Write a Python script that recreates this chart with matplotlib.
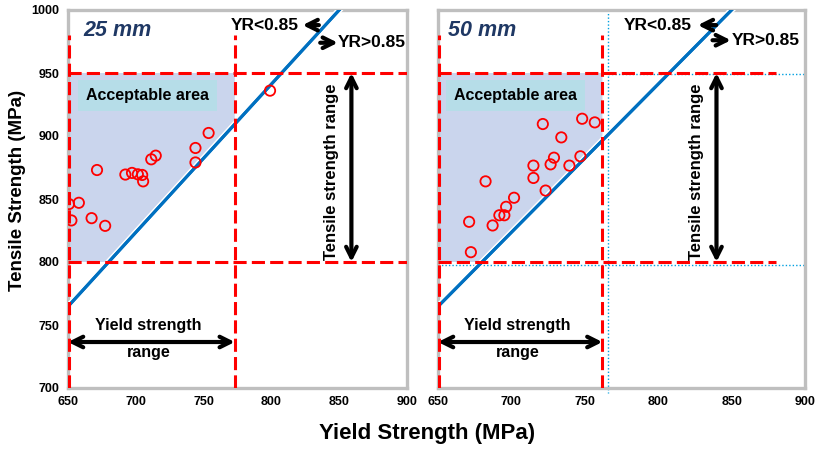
import matplotlib
matplotlib.use("Agg")
import matplotlib.pyplot as plt
import matplotlib.patheffects as pe

plt.rcParams["font.family"] = ["Liberation Sans", "DejaVu Sans"]
plt.rcParams["font.weight"] = "bold"

# yield ratio limit and specification ranges
yr_limit = 0.85
ts_range = (800, 950)
ys_range_25 = (650, 773)
ys_range_50 = (650, 762)

# 25 mm plate data (yield strength, tensile strength)
ys_25 = [799, 753.7, 744, 744, 714.7, 711.4, 671.4, 692.3, 697.2, 701.5, 704.7,
         705.4, 650.7, 658, 652.5, 667.4, 677.4]
ts_25 = [936, 902.4, 890.5, 879, 884.4, 881.5, 873, 869.4, 870.7, 869.6, 869.1,
         864, 846, 847, 833, 834.8, 828.7]

# 50 mm plate data
ys_50 = [748.2, 756.8, 721.4, 734, 729, 726.7, 747, 739.5, 715, 715, 682.4,
         723.3, 701.8, 696.4, 691.8, 695.2, 687.2, 671.2, 672.4]
ts_50 = [913.7, 910.8, 909.5, 898.9, 882.8, 877.5, 883.9, 876.5, 876.5, 866.7, 864,
         856.7, 851, 843.8, 837.1, 837.1, 829, 831.9, 807.8]

xticks = [650, 700, 750, 800, 850, 900]
yticks = [700, 750, 800, 850, 900, 950, 1000]

RED = "#ff0000"
BLUE = "#0070c0"
FILL = "#cad5ed"
BOX = "#b6dde8"
NAVY = "#1f3864"
GRID = "#bfbfbf"


def arrow(ax, tail, head, style="->"):
    ax.annotate("", xy=head, xytext=tail,
                arrowprops=dict(arrowstyle=style, lw=3, color="black",
                                mutation_scale=19, shrinkA=0, shrinkB=0))


def draw_panel(ax, ys, ts, label, ys_rng, red_h_end, pos):
    ax.set_xlim(650, 900)
    ax.set_ylim(700, 1000)
    ts_lo, ts_hi = ts_range
    ys_lo, ys_hi = ys_rng

    # acceptable area
    poly_x = [ys_lo, ys_hi, ys_hi, ts_lo * yr_limit, ys_lo]
    poly_y = [ts_hi, ts_hi, ys_hi / yr_limit, ts_lo, ts_lo]
    ax.fill(poly_x, poly_y, color=FILL, lw=0, zorder=1)

    # YR = 0.85 line
    ax.plot([650, 1000 * yr_limit], [650 / yr_limit, 1000], color=BLUE, lw=2.2,
            zorder=3, path_effects=[pe.withStroke(linewidth=4.5, foreground="white"),
                                    pe.Normal()])

    # specification limits
    dash = dict(color=RED, lw=2.2, dashes=(4.3, 1.7), zorder=4)
    ax.plot([650, red_h_end], [ts_lo, ts_lo], **dash)
    ax.plot([650, red_h_end], [ts_hi, ts_hi], **dash)
    ax.plot([ys_lo + 0.8, ys_lo + 0.8], [700, 980], **dash)
    ax.plot([ys_hi, ys_hi], [700, 980], **dash)

    ax.scatter(ys, ts, s=55, facecolors="none", edgecolors=RED, linewidths=1.3,
               zorder=5)

    ax.text(ys_lo + (ys_hi - ys_lo) / 2 - 3, 932, "Acceptable area", fontsize=11.5,
            ha="center", va="center", zorder=6,
            bbox=dict(boxstyle="square,pad=0.5", fc=BOX, ec="none"))

    ax.text(pos["lbl_x"], 984, label, fontsize=15.5, style="italic", color=NAVY,
            va="center", ha="left")

    # yield ratio annotations
    ax.text(pos["lt_x"], 988, "YR<0.85", fontsize=12.5, va="center", ha="left")
    arrow(ax, (pos["lt_arrow"][1], 988), (pos["lt_arrow"][0], 988))
    arrow(ax, (pos["gt_arrow"][0], pos["gt_y"]), (pos["gt_arrow"][1], pos["gt_y"]))
    ax.text(pos["gt_arrow"][1] + 0.3, pos["gt_y"], "YR>0.85", fontsize=12.5,
            va="center", ha="left")

    # tensile strength range
    arrow(ax, (pos["ts_arrow_x"], ts_lo), (pos["ts_arrow_x"], ts_hi), style="<->")
    ax.text(pos["ts_text_x"], 872, "Tensile strength range", fontsize=12,
            rotation=90, ha="center", va="center")

    # yield strength range
    arrow(ax, (ys_lo, 736.5), (ys_hi, 736.5), style="<->")
    mid = ys_lo + (ys_hi - ys_lo) / 2
    ax.text(mid - 2, 749.5, "Yield strength", fontsize=11.5, ha="center", va="center")
    ax.text(mid - 2, 728.5, "range", fontsize=11.5, ha="center", va="center")

    ax.set_xticks(xticks)
    ax.tick_params(length=0, labelsize=9, pad=6)
    for sp in ax.spines.values():
        sp.set_color(GRID)
        sp.set_linewidth(2.4)


fig = plt.figure(figsize=(8.2, 4.49), dpi=100)
ax1 = fig.add_axes([68 / 820, 1 - 388 / 449, 339 / 820, 378 / 449])
ax2 = fig.add_axes([438 / 820, 1 - 388 / 449, 367 / 820, 378 / 449])

draw_panel(ax1, ys_25, ts_25, "25 mm", ys_range_25, 900,
           dict(lbl_x=661, lt_x=770, lt_arrow=(823, 835), gt_arrow=(836, 849), gt_y=974,
                ts_arrow_x=859, ts_text_x=844))
draw_panel(ax2, ys_50, ts_50, "50 mm", ys_range_50, 880,
           dict(lbl_x=656.5, lt_x=776.5, lt_arrow=(827, 839.5), gt_arrow=(837, 849.5),
                gt_y=976, ts_arrow_x=839.7, ts_text_x=825.8))

ax1.set_yticks(yticks)
ax2.set_yticks([])

# blue dotted guide lines on the 50 mm panel
dot = dict(color="#00a0e0", lw=1.0, ls=(0, (1, 1.5)), zorder=2)
ax2.plot([765.5, 765.5], [1000, 696], clip_on=False, **dot)
ax2.plot([765.5, 900], [949, 949], **dot)
ax2.plot([650, 900], [797.5, 797.5], **dot)

fig.text(18 / 820, 1 - 190 / 449, "Tensile Strength (MPa)", fontsize=13.5,
         rotation=90, ha="center", va="center")
fig.text(427 / 820, 1 - 433 / 449, "Yield Strength (MPa)", fontsize=16,
         ha="center", va="center")

fig.savefig("out.png", dpi=100)
